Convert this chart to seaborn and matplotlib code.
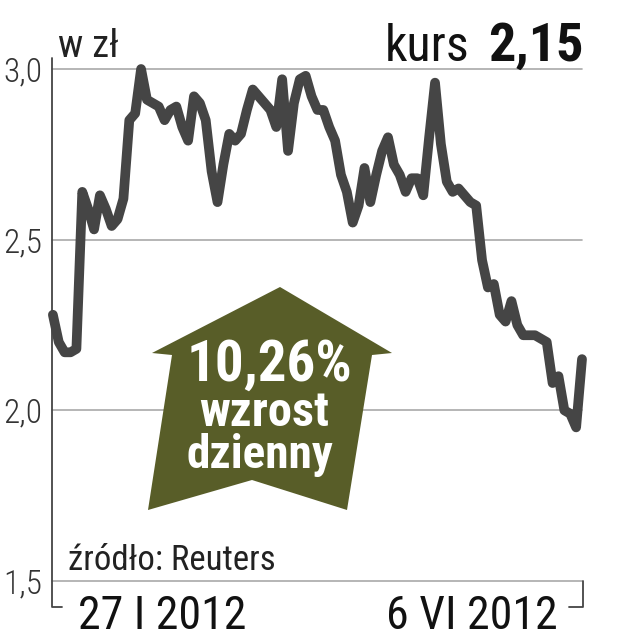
import matplotlib
matplotlib.use("Agg")
import matplotlib.pyplot as plt
import seaborn as sns
import pandas as pd
from matplotlib.patches import Polygon
from matplotlib.lines import Line2D

# ---- data ----
day = list(range(91))
price = [2.28, 2.20, 2.17, 2.17, 2.18, 2.64, 2.59, 2.53, 2.63, 2.59,
         2.54, 2.56, 2.62, 2.85, 2.87, 3.00, 2.91, 2.90, 2.89, 2.85,
         2.88, 2.89, 2.83, 2.79, 2.92, 2.90, 2.85, 2.70, 2.61, 2.72,
         2.81, 2.79, 2.81, 2.88, 2.94, 2.92, 2.90, 2.88, 2.83, 2.97,
         2.76, 2.90, 2.97, 2.98, 2.92, 2.88, 2.88, 2.83, 2.79, 2.69,
         2.64, 2.55, 2.60, 2.71, 2.61, 2.69, 2.76, 2.80, 2.72, 2.69,
         2.64, 2.68, 2.68, 2.63, 2.80, 2.96, 2.78, 2.67, 2.64, 2.65,
         2.63, 2.61, 2.60, 2.44, 2.36, 2.37, 2.28, 2.26, 2.32, 2.25,
         2.22, 2.22, 2.22, 2.21, 2.20, 2.08, 2.10, 2.00, 1.99, 1.95,
         2.15]
y_ticks = [1.5, 2.0, 2.5, 3.0]
y_tick_labels = ["1,5", "2,0", "2,5", "3,0"]
x_labels = ["27 I 2012", "6 VI 2012"]
unit_label = "w zł"
kurs_label = "kurs"
kurs_value = "2,15"
arrow_lines = ["10,26%", "wzrost", "dzienny"]
source = "źródło: Reuters"

sns.set_style("white")
NARROW = ["Roboto Condensed", "DejaVu Sans Condensed", "Liberation Sans Narrow",
          "Roboto", "DejaVu Sans"]
plt.rcParams["font.family"] = NARROW

W, H = 617, 640
fig = plt.figure(figsize=(W / 100, H / 100), dpi=100)

def fx(px):
    return px / W

def fy(py):
    return 1 - py / H

ax_l, ax_r, ax_t, ax_b = 52, 582, 69, 581
ax = fig.add_axes([fx(ax_l), fy(ax_b), fx(ax_r) - fx(ax_l), fy(ax_t) - fy(ax_b)])

df = pd.DataFrame({"day": day, "price": price})

ax.set_xlim(-0.15, 90)
ax.set_ylim(1.5, 3.0)
for v in y_ticks:
    ax.axhline(v, color="#a9a9a9", lw=1.2, zorder=1, clip_on=False)

sns.lineplot(data=df, x="day", y="price", ax=ax, color="#454545",
             linewidth=7, solid_capstyle="round", solid_joinstyle="round",
             zorder=3, clip_on=False)

for s in ax.spines.values():
    s.set_visible(False)
ax.set_xlabel("")
ax.set_ylabel("")
ax.set_xticks([])
ax.set_yticks(y_ticks)
ax.set_yticklabels(y_tick_labels, fontsize=24, color="#333333", fontweight="light")
ax.tick_params(axis="y", length=0, pad=7)

# bracket-style axis frame
def axfrac_x(px):
    return (px - ax_l) / (ax_r - ax_l)

def axfrac_y(py):
    return (ax_b - py) / (ax_b - ax_t)

frame_kw = dict(color="#444444", lw=1.3, transform=ax.transAxes, clip_on=False)
ax.add_line(Line2D([axfrac_x(52), axfrac_x(52), axfrac_x(62)],
                   [axfrac_y(58), axfrac_y(607), axfrac_y(607)], **frame_kw))
ax.add_line(Line2D([axfrac_x(569), axfrac_x(583), axfrac_x(583)],
                   [axfrac_y(607), axfrac_y(607), axfrac_y(581)], **frame_kw))

# arrow
arrow_pts = [(280, 287), (392, 353), (372, 355), (347, 510), (252, 480),
             (148, 510), (172, 355), (152, 353)]
poly = Polygon([(fx(x), fy(y)) for x, y in arrow_pts], closed=True,
               transform=fig.transFigure, facecolor="#585d28", edgecolor="none",
               zorder=5)
fig.patches.append(poly)

fig.text(fx(269), fy(381), arrow_lines[0], color="white", fontsize=41,
         fontweight="bold", ha="center", va="baseline", zorder=6)
fig.text(fx(264), fy(426), arrow_lines[1], color="white", fontsize=35,
         fontweight="bold", ha="center", va="baseline", zorder=6)
fig.text(fx(260), fy(468), arrow_lines[2], color="white", fontsize=34,
         fontweight="bold", ha="center", va="baseline", zorder=6)

# titles
fig.text(fx(58), fy(57), unit_label, fontsize=28, color="#222222",
         ha="left", va="baseline")
fig.text(fx(470), fy(61), kurs_label, fontsize=36, color="#111111",
         ha="right", va="baseline")
fig.text(fx(584), fy(61), kurs_value, fontsize=39, color="#111111",
         fontweight="bold", ha="right", va="baseline")

# source
fig.text(fx(68), fy(570), source, fontsize=25, color="#222222",
         ha="left", va="baseline")

# x labels
fig.text(fx(78), fy(629), x_labels[0], fontsize=33, color="#111111",
         ha="left", va="baseline")
fig.text(fx(558), fy(629), x_labels[1], fontsize=33, color="#111111",
         ha="right", va="baseline")

fig.savefig("out.png", dpi=100, facecolor="white")
